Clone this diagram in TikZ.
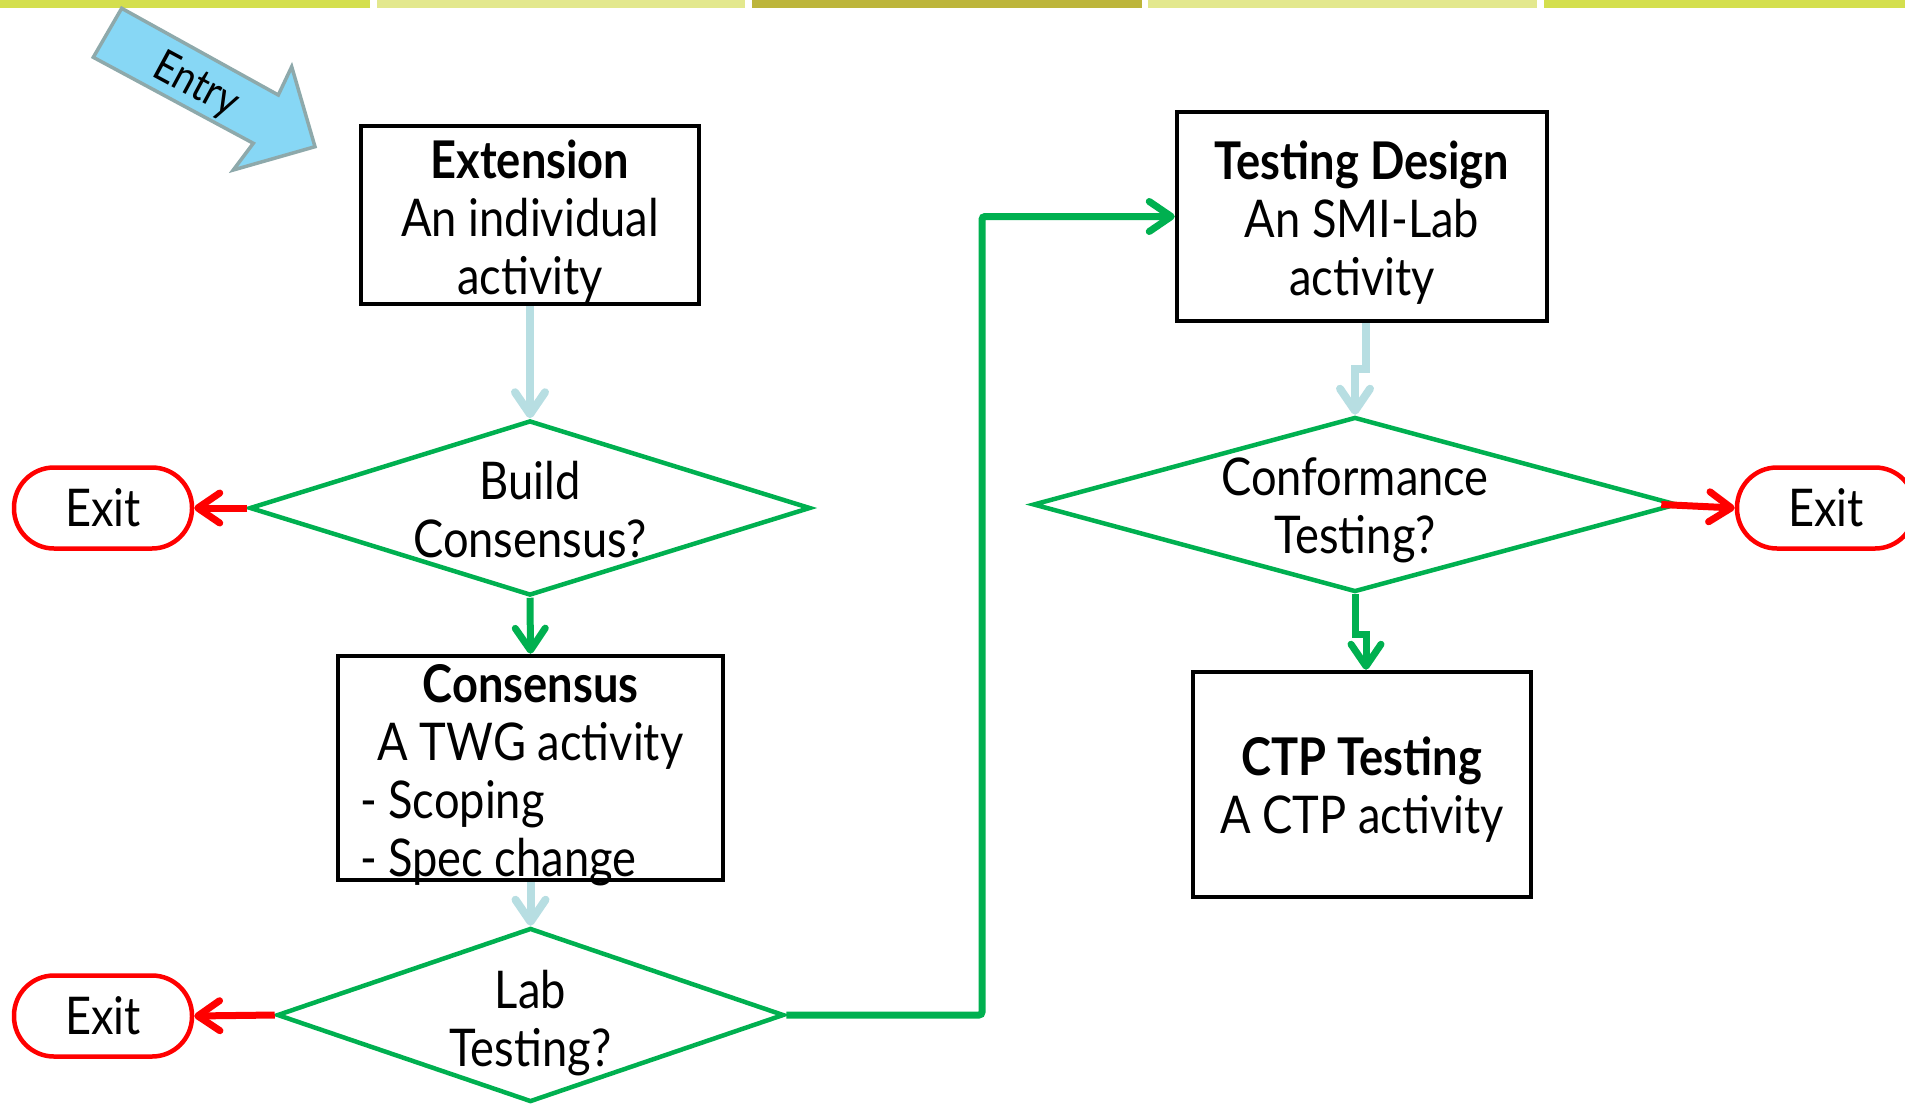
\documentclass[tikz,border=0pt]{standalone}
\usepackage{fontspec}
\setmainfont{Lato}[FakeStretch=0.87]
\usetikzlibrary{arrows.meta,shapes.geometric}
\definecolor{barA}{HTML}{D4DF4E}
\definecolor{barB}{HTML}{E3E88E}
\definecolor{barC}{HTML}{BDB53B}
\definecolor{pgreen}{HTML}{00B050}
\definecolor{pred}{HTML}{FF0000}
\definecolor{pblue}{HTML}{B7DEE2}
\definecolor{entryfill}{HTML}{87D7F5}
\definecolor{entryline}{HTML}{8EA9AB}
\tikzset{
  mainfont/.style={font=\fontsize{52}{58}\selectfont},
  box/.style={draw=black, line width=4.5pt, inner sep=0pt},
  btext/.style={align=center, inner sep=0pt, mainfont},
  decision/.style={draw=pgreen, line width=4.5pt, shape=diamond, inner sep=0pt, aspect=3},
  dtext/.style={align=center, inner sep=0pt, mainfont},
  exitbox/.style={draw=pred, line width=4.5pt, rounded corners=40pt, minimum width=178pt, minimum height=81pt, inner sep=0pt, mainfont},
  barb/.style={-{Straight Barb[length=22pt,width=30pt,round]}},
  bluearrow/.style={draw=pblue, line width=8pt, barb},
  greenarrow/.style={draw=pgreen, line width=7pt, barb},
  redarrow/.style={draw=pred, line width=7pt, barb},
}
\begin{document}
\begin{tikzpicture}[x=1pt,y=-1pt]
\useasboundingbox (0,0) rectangle (1905,1103);
% top bar
\fill[barA] (0,0) rectangle (370,8);
\fill[barB] (377,0) rectangle (745,8);
\fill[barC] (752,0) rectangle (1142,8);
\fill[barB] (1148,0) rectangle (1537,8);
\fill[barA] (1544,0) rectangle (1905,8);
% entry arrow
\draw[fill=entryfill, draw=entryline, line width=3.5pt, line join=miter]
  (121.7,8.3) -- (93.3,57.3) -- (253.3,143.3) -- (233.3,170) -- (315,146.7) -- (291.7,66.7) -- (278.3,95) -- cycle;
\node[rotate=-28.3, font=\fontsize{44}{50}\selectfont, inner sep=0pt] (entry) at (196,86) {Entry};
% boxes
\node[box, minimum width=338pt, minimum height=178pt] (ext) at (530,215) {};
\node[btext] (extt) at (530,222) {\textbf{Extension}\\An individual\\activity};
\node[box, minimum width=370pt, minimum height=209pt] (td) at (1362,216.5) {};
\node[btext] (tdt) at (1362,223) {\textbf{Testing Design}\\An SMI-Lab\\activity};
\node[box, minimum width=385pt, minimum height=224pt] (cons) at (530.5,768) {};
\node[btext] (const) at (530.5,775)
  {\parbox{341pt}{{\centering\textbf{Consensus}\\A TWG activity\par}{\raggedright - Scoping\\- Spec change\par}}};
\node[box, minimum width=338pt, minimum height=225pt] (ctp) at (1362,784.5) {};
\node[btext] (ctpt) at (1362,790) {\textbf{CTP Testing}\\A CTP activity};
% decisions
\node[decision, minimum width=561pt, minimum height=175pt] (d1) at (530,508) {};
\node[dtext] (d1t) at (530,510) {Build\\Consensus?};
\node[decision, minimum width=507pt, minimum height=174pt] (d2) at (530.5,1015) {};
\node[dtext] (d2t) at (530.5,1023) {Lab\\Testing?};
\node[decision, minimum width=644pt, minimum height=175pt] (d3) at (1355,504.5) {};
\node[dtext] (d3t) at (1355,510) {Conformance\\Testing?};
% exits
\node[exitbox] (x1) at (103,508) {Exit};
\node[exitbox] (x2) at (103,1016) {Exit};
\node[exitbox] (x3) at (1826,508) {Exit};
% connectors
\coordinate (jog) at (982,0);
\draw[bluearrow] (ext.south) -- (d1.north);
\draw[greenarrow] (d1.south) -- (cons.north);
\draw[redarrow] (d1.west) -- (x1.east);
\draw[bluearrow] (cons.south) -- (d2.north);
\draw[redarrow] (d2.west) -- (x2.east);
\draw[greenarrow, rounded corners=3pt] (d2.east) -- (d2.east -| jog) |- (td.west);
\draw[bluearrow] ([xshift=4pt]td.south) -- ++(0,46) -| (d3.north);
\draw[greenarrow] (d3.south) -- ++(0,40) -| ([xshift=4pt]ctp.north);
\draw[redarrow] ([xshift=-18pt]d3.east) -- (x3.west);
\end{tikzpicture}
\end{document}
